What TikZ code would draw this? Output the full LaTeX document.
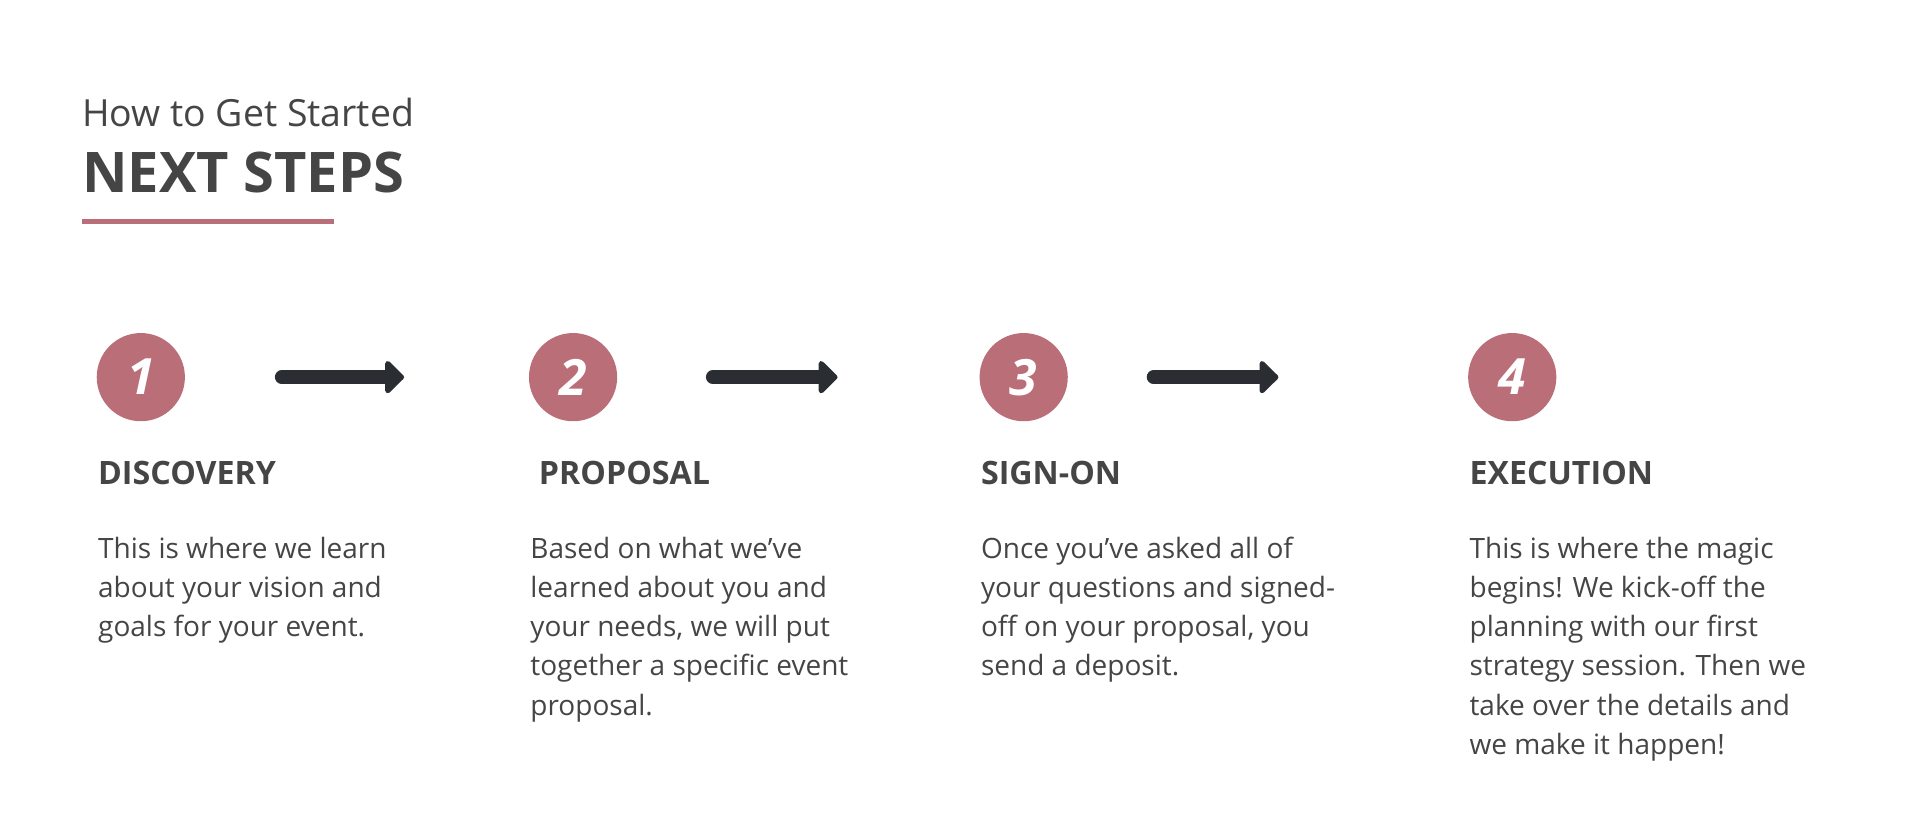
\documentclass[tikz,border=0pt]{standalone}
\usepackage{fontspec}
\setmainfont{Open Sans}
\usetikzlibrary{arrows.meta}
\definecolor{rose}{HTML}{B96E78}
\definecolor{txt}{HTML}{454545}
\definecolor{arr}{HTML}{2A2D32}
\begin{document}
\begin{tikzpicture}[x=1.2245pt,y=-1.2245pt,
  numc/.style={circle,fill=rose,minimum size=88.2pt,inner sep=0pt,text=white,font=\fontsize{50}{50}\selectfont\bfseries\itshape},
  head/.style={anchor=base west,inner sep=0pt,text=txt,font=\fontsize{32.2}{39}\selectfont\bfseries},
  body/.style={anchor=base west,inner sep=0pt,text=txt,align=left,font=\fontsize{28}{39.2}\selectfont},
  flow/.style={draw=arr,line width=13.5pt,line cap=round,-{Triangle[length=20pt,width=38pt,round]}}]
\useasboundingbox (0,0) rectangle (1568,665);
\node[anchor=base west,inner sep=0pt,text=txt,font=\fontsize{37.4}{40}\selectfont] (t1) at (67,103) {How to Get Started};
\node[anchor=base west,inner sep=0pt,text=txt,font=\fontsize{56}{60}\selectfont\bfseries] (t2) at (67,157) {NEXT STEPS};
\coordinate (l1) at (67,181); \coordinate (l2) at (273,181);
\draw[rose,line width=4.5pt] (l1) -- (l2);
\node[numc] (c1) at (115,308) {1};
\node[numc] (c2) at (468,308) {2};
\node[numc] (c3) at (836,308) {3};
\node[numc] (c4) at (1235,308) {4};
\coordinate (a1s) at (230,308); \coordinate (a1e) at (330,308);
\coordinate (a2s) at (582,308); \coordinate (a2e) at (684,308);
\coordinate (a3s) at (942,308); \coordinate (a3e) at (1044,308);
\draw[flow] (a1s) -- (a1e);
\draw[flow] (a2s) -- (a2e);
\draw[flow] (a3s) -- (a3e);
\node[head] (h1) at (80,396) {DISCOVERY};
\node[head] (h2) at (440,396) {PROPOSAL};
\node[head] (h3) at (801,396) {SIGN-ON};
\node[head] (h4) at (1200,396) {EXECUTION};
\node[body] (b1) at (80,520) {This is where we learn\\about your vision and\\goals for your event.};
\node[body] (b2) at (433,584) {Based on what we’ve\\learned about you and\\your needs, we will put\\together a specific event\\proposal.};
\node[body] (b3) at (801,552) {Once you’ve asked all of\\your questions and signed-\\off on your proposal, you\\send a deposit.};
\node[body] (b4) at (1200,616) {This is where the magic\\begins! We kick-off the\\planning with our first\\strategy session. Then we\\take over the details and\\we make it happen!};
\end{tikzpicture}
\end{document}
